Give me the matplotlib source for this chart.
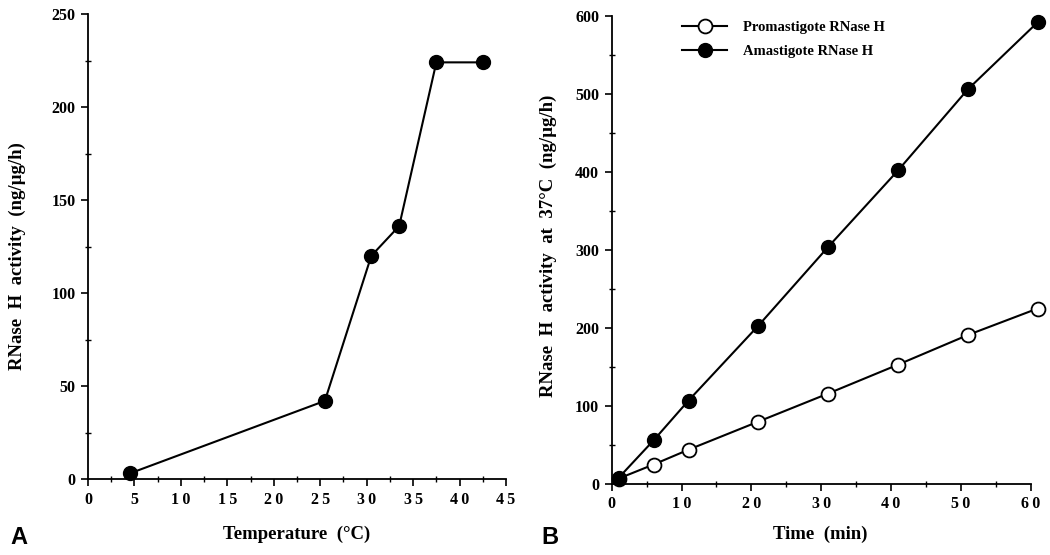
import matplotlib
matplotlib.use("Agg")
import matplotlib.pyplot as plt
from matplotlib.ticker import MultipleLocator

# ---- Data ----
temperature = [4.5, 25.5, 30.5, 33.5, 37.5, 42.5]
activity_temp = [3, 42, 120, 136, 224, 224]

time_min = [1, 6, 11, 21, 31, 41, 51, 61]
promastigote = [7, 25, 44, 80, 116, 153, 191, 225]
amastigote = [8, 56, 107, 203, 304, 402, 506, 592]

left_xticks = [0, 5, 10, 15, 20, 25, 30, 35, 40, 45]
left_yticks = [0, 50, 100, 150, 200, 250]
right_xticks = [0, 10, 20, 30, 40, 50, 60]
right_yticks = [0, 100, 200, 300, 400, 500, 600]

SP = "\u2009"
def spaced(v):
    return SP.join(str(v))

serif = ["Liberation Serif", "DejaVu Serif"]
plt.rcParams["font.family"] = serif
plt.rcParams["font.weight"] = "bold"

fig = plt.figure(figsize=(10.5, 5.55), dpi=100)
axA = fig.add_axes([88/1050, 1-479/555, 418/1050, 465/555])
axB = fig.add_axes([611.7/1050, 1-484/555, 419/1050, 468/555])

def style(ax):
    for s in ["top", "right"]:
        ax.spines[s].set_visible(False)
    for s in ["left", "bottom"]:
        ax.spines[s].set_linewidth(1.3)
    ax.tick_params(which="major", direction="out", length=5, width=1.2,
                   labelsize=11.5, pad=4)
    ax.tick_params(which="minor", direction="inout", length=4, width=1.0)
    for lab in ax.get_xticklabels() + ax.get_yticklabels():
        lab.set_fontweight("bold")

# Panel A
axA.plot(temperature, activity_temp, color="black", lw=1.5, marker="o",
         markersize=10, markerfacecolor="black", markeredgecolor="black",
         clip_on=False, zorder=3)
axA.set_xlim(0, 45)
axA.set_ylim(0, 250)
axA.set_xticks(left_xticks)
axA.set_xticklabels([spaced(v) for v in left_xticks])
axA.set_yticks(left_yticks)
axA.set_yticklabels([str(v) for v in left_yticks])
axA.xaxis.set_minor_locator(MultipleLocator(2.5))
axA.yaxis.set_minor_locator(MultipleLocator(25))
style(axA)
axA.set_xlabel("Temperature  (°C)", fontsize=13.5, fontweight="bold")
axA.set_ylabel("RNase  H  activity  (ng/µg/h)", fontsize=13.5, fontweight="bold")
axA.xaxis.set_label_coords(0.5, -0.101)
axA.yaxis.set_label_coords(-0.148, 0.48)

# Panel B
axB.plot(time_min, promastigote, color="black", lw=1.5, marker="o",
         markersize=10, markerfacecolor="white", markeredgecolor="black",
         markeredgewidth=1.3, clip_on=False, zorder=3,
         label="Promastigote RNase H")
axB.plot(time_min, amastigote, color="black", lw=1.5, marker="o",
         markersize=10, markerfacecolor="black", markeredgecolor="black",
         clip_on=False, zorder=4, label="Amastigote RNase H")
axB.set_xlim(0, 60)
axB.set_ylim(0, 600)
axB.set_xticks(right_xticks)
axB.set_xticklabels([spaced(v) for v in right_xticks])
axB.set_yticks(right_yticks)
axB.set_yticklabels([str(v) for v in right_yticks])
axB.xaxis.set_minor_locator(MultipleLocator(5))
axB.yaxis.set_minor_locator(MultipleLocator(50))
style(axB)
axB.set_xlabel("Time  (min)", fontsize=13.5, fontweight="bold")
axB.set_ylabel("RNase  H  activity  at  37°C  (ng/µg/h)", fontsize=13.5,
               fontweight="bold")
axB.xaxis.set_label_coords(0.497, -0.0897)
axB.yaxis.set_label_coords(-0.131, 0.51)

leg = axB.legend(loc="upper left", bbox_to_anchor=(0.168, 0.989), frameon=False,
                 handlelength=3.1, handletextpad=1.1, labelspacing=0.7,
                 borderpad=0, borderaxespad=0,
                 prop={"family": serif, "weight": "bold", "size": 10.5})

# Panel letters
fig.text(10/1050, 1-537/555, "A", family=["Liberation Sans", "DejaVu Sans"],
         fontweight="bold", fontsize=17, va="center", ha="left")
fig.text(541/1050, 1-537/555, "B", family=["Liberation Sans", "DejaVu Sans"],
         fontweight="bold", fontsize=17, va="center", ha="left")

fig.savefig("out.png", dpi=100)
